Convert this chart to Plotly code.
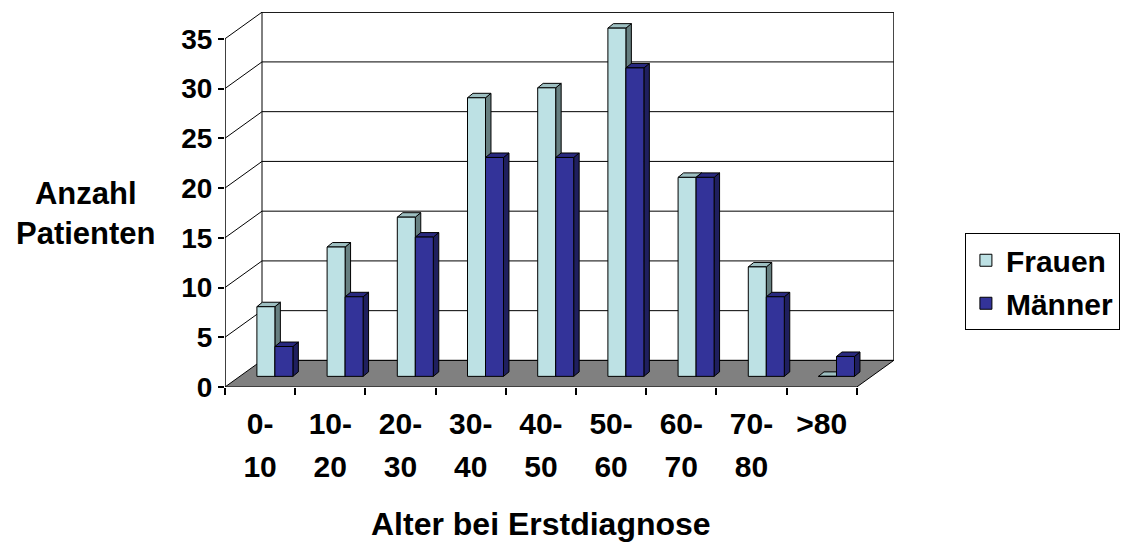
import plotly.graph_objects as go

# ---------------- data ----------------
categories = ["0-10", "10-20", "20-30", "30-40", "40-50", "50-60", "60-70", "70-80", ">80"]
label_line1 = ["0-", "10-", "20-", "30-", "40-", "50-", "60-", "70-", ">80"]
label_line2 = ["10", "20", "30", "40", "50", "60", "70", "80", ""]
frauen = [7, 13, 16, 28, 29, 35, 20, 11, 0]
maenner = [3, 8, 14, 22, 22, 31, 20, 8, 2]
y_ticks = [0, 5, 10, 15, 20, 25, 30, 35]
y_max = 35

# ---------------- styling / geometry ----------------
FONT = "Liberation Sans, Arial, sans-serif"
F_FRONT, F_SIDE, F_TOP = "#BDE1E4", "#667F80", "#9DBFC1"
M_FRONT, M_SIDE, M_TOP = "#333399", "#1F1F5E", "#29297F"
FLOOR = "#808080"

DX, DY = 0.527, 2.673          # depth of the 3D box (axis units)
D_BAR = 0.40                   # depth position of bar fronts
BW = 0.2564                    # bar width
BDX, BDY = 0.078, 0.45         # bar depth
n = len(categories)
idx = list(range(n))
base = D_BAR * DY
fx = [i + D_BAR * DX - BW / 2 for i in idx]
mx = [i + D_BAR * DX + BW / 2 for i in idx]


def path(pts):
    return "M " + " L ".join(f"{x:.4f},{y:.4f}" for x, y in pts) + " Z"


shapes = []
L, R = -0.5, n - 0.5
# back wall
shapes.append(dict(type="path", xref="x", yref="y", layer="below",
                   path=path([(L + DX, DY), (R + DX, DY), (R + DX, y_max + DY), (L + DX, y_max + DY)]),
                   fillcolor="white", line=dict(color="black", width=1)))
# floor
shapes.append(dict(type="path", xref="x", yref="y", layer="below",
                   path=path([(L, 0), (R, 0), (R + DX, DY), (L + DX, DY)]),
                   fillcolor=FLOOR, line=dict(color="black", width=1)))
# gridlines on back wall and left wall
for v in y_ticks[1:]:
    shapes.append(dict(type="line", xref="x", yref="y", layer="below",
                       x0=L + DX, x1=R + DX, y0=v + DY, y1=v + DY,
                       line=dict(color="black", width=1)))
    shapes.append(dict(type="line", xref="x", yref="y", layer="below",
                       x0=L, x1=L + DX, y0=v, y1=v + DY,
                       line=dict(color="black", width=1)))
# front vertical axis line
shapes.append(dict(type="line", xref="x", yref="y", layer="above",
                   x0=L, x1=L, y0=0, y1=y_max, line=dict(color="black", width=1.5)))

# bar side / top faces
for i in idx:
    for vals, xs, sc, tc in ((frauen, fx, F_SIDE, F_TOP), (maenner, mx, M_SIDE, M_TOP)):
        xl, xr = xs[i] - BW / 2, xs[i] + BW / 2
        b, t = base, base + vals[i]
        if vals[i] > 0:
            shapes.append(dict(type="path", xref="x", yref="y", layer="below",
                               path=path([(xr, b), (xr + BDX, b + BDY), (xr + BDX, t + BDY), (xr, t)]),
                               fillcolor=sc, line=dict(color="black", width=1)))
        shapes.append(dict(type="path", xref="x", yref="y", layer="below",
                           path=path([(xl, t), (xr, t), (xr + BDX, t + BDY), (xl + BDX, t + BDY)]),
                           fillcolor=tc, line=dict(color="black", width=1)))

fig = go.Figure()
fig.add_trace(go.Bar(x=fx, y=frauen, base=[base] * n, width=BW, name="Frauen",
                     legendgroup="f",
                     marker=dict(color=F_FRONT, line=dict(color="black", width=1))))
fig.add_trace(go.Bar(x=mx, y=maenner, base=[base] * n, width=BW, name="Männer",
                     legendgroup="m",
                     marker=dict(color=M_FRONT, line=dict(color="black", width=1))))
# empty helper trace so the second-line label axis is created
fig.add_trace(go.Scatter(x=[], y=[], xaxis="x2", yaxis="y", showlegend=False,
                         hoverinfo="skip"))

xr_range = [-0.5, 9.03]
fig.update_layout(
    width=1132, height=543,
    margin=dict(l=225, r=238, t=12, b=156, autoexpand=False),
    paper_bgcolor="white", plot_bgcolor="white",
    barmode="overlay",
    shapes=shapes,
    font=dict(family=FONT, color="black"),
    xaxis=dict(range=xr_range, tickmode="array", tickvals=idx, ticktext=label_line1,
               ticks="", showgrid=False, zeroline=False, showline=False,
               tickfont=dict(size=30, weight="bold"), ticklabelstandoff=16,
               minor=dict(tickmode="array", tickvals=[i - 0.5 for i in range(n + 1)],
                          ticks="outside", ticklen=7, tickcolor="black", tickwidth=1.5)),
    xaxis2=dict(range=xr_range, overlaying="x", anchor="y", side="bottom",
                tickmode="array", tickvals=idx, ticktext=label_line2,
                ticks="", showgrid=False, zeroline=False, showline=False,
                tickfont=dict(size=30, weight="bold"), ticklabelstandoff=59),
    yaxis=dict(range=[0, 37.69], tickmode="array", tickvals=y_ticks,
               ticks="outside", ticklen=6, tickcolor="black", tickwidth=1.5,
               showgrid=False, zeroline=False, showline=False,
               tickfont=dict(size=28, weight="bold")),
    legend=dict(x=1.106, xanchor="left", y=0.41, yanchor="top",
                bgcolor="white", bordercolor="black", borderwidth=1,
                font=dict(size=30, weight="bold"), tracegroupgap=1,
                entrywidth=170, entrywidthmode="pixels"),
    annotations=[
        dict(text="Anzahl<br>Patienten", xref="paper", yref="paper", x=-0.208, y=0.464,
             xanchor="center", yanchor="middle", showarrow=False,
             font=dict(size=31, weight="bold")),
        dict(text="Alter bei Erstdiagnose", xref="x", yref="paper", x=4, y=-0.365,
             xanchor="center", yanchor="middle", showarrow=False,
             font=dict(size=32, weight="bold")),
    ],
)

fig.write_html("out.html")
